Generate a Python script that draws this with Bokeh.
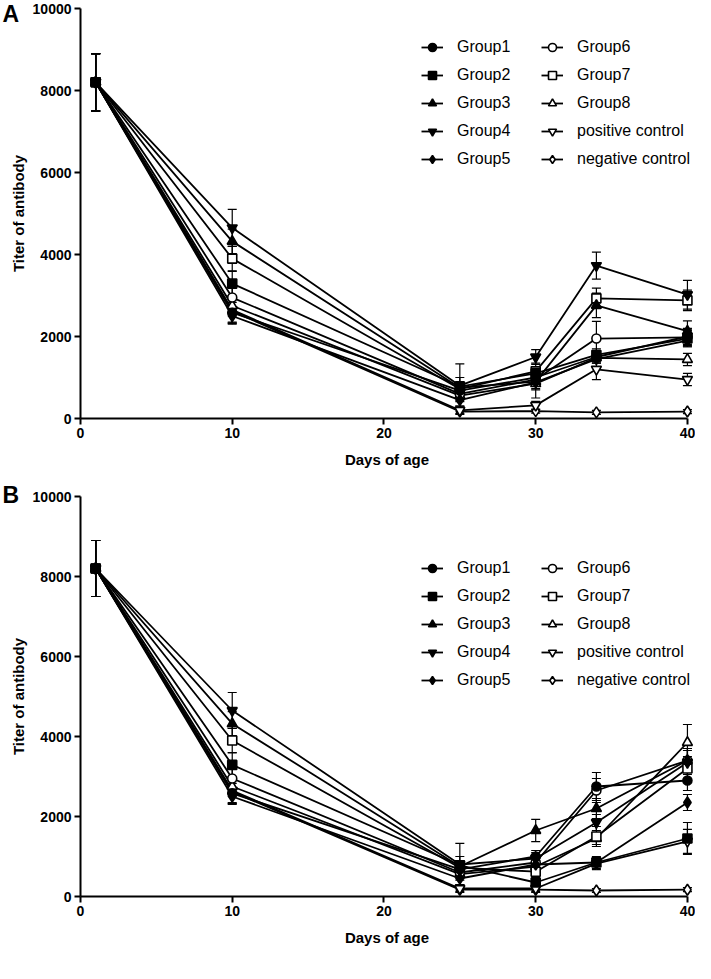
from bokeh.plotting import figure
from bokeh.models import (ColumnDataSource, Whisker, Legend, LegendItem, Title,
                          Range1d, FixedTicker, TeeHead, NumeralTickFormatter)
from bokeh.layouts import column
from bokeh.embed import file_html
from bokeh.resources import INLINE

days = [1, 10, 25, 30, 34, 40]
names = ["Group1", "Group2", "Group3", "Group4", "Group5",
         "Group6", "Group7", "Group8", "positive control", "negative control"]
x_ticks = [0, 10, 20, 30, 40]
y_ticks = [0, 2000, 4000, 6000, 8000, 10000]

# Panel A values (titer of antibody)
a_group1 = [8200, 2580, 680, 1000, 1500, 2000]
a_group2 = [8200, 3290, 780, 1100, 1550, 1950]
a_group3 = [8200, 4320, 750, 900, 2760, 2130]
a_group4 = [8200, 4650, 800, 1500, 3730, 3020]
a_group5 = [8200, 2500, 450, 880, 1450, 1900]
a_group6 = [8200, 2950, 600, 950, 1950, 1980]
a_group7 = [8200, 3900, 720, 1150, 2930, 2880]
a_group8 = [8200, 2750, 560, 850, 1480, 1440]
a_pos = [8200, 2650, 200, 320, 1200, 950]
a_neg = [8200, 2620, 170, 180, 150, 170]

# Panel A errors (SD)
a_err_group1 = [700, 250, 150, 150, 150, 200]
a_err_group2 = [700, 300, 550, 150, 150, 200]
a_err_group3 = [700, 300, 150, 200, 300, 250]
a_err_group4 = [700, 450, 200, 180, 330, 350]
a_err_group5 = [700, 200, 150, 150, 100, 150]
a_err_group6 = [700, 250, 150, 150, 420, 200]
a_err_group7 = [700, 300, 150, 200, 250, 250]
a_err_group8 = [700, 250, 150, 350, 100, 150]
a_err_pos = [700, 300, 100, 100, 250, 150]
a_err_neg = [700, 300, 50, 50, 50, 50]

# Panel B values
b_group1 = [8200, 2580, 680, 1000, 2750, 2900]
b_group2 = [8200, 3290, 780, 350, 850, 1450]
b_group3 = [8200, 4320, 750, 1650, 2200, 3400]
b_group4 = [8200, 4650, 800, 950, 1850, 3350]
b_group5 = [8200, 2500, 450, 800, 850, 2350]
b_group6 = [8200, 2950, 600, 850, 2650, 3400]
b_group7 = [8200, 3900, 720, 620, 1500, 3200]
b_group8 = [8200, 2750, 560, 750, 1450, 3850]
b_pos = [8200, 2650, 200, 200, 820, 1380]
b_neg = [8200, 2620, 170, 170, 150, 170]

# Panel B errors
b_err_group1 = [700, 250, 150, 150, 350, 250]
b_err_group2 = [700, 300, 550, 150, 150, 400]
b_err_group3 = [700, 300, 150, 280, 250, 300]
b_err_group4 = [700, 450, 200, 150, 200, 300]
b_err_group5 = [700, 200, 150, 150, 100, 200]
b_err_group6 = [700, 250, 150, 150, 300, 300]
b_err_group7 = [700, 300, 150, 150, 250, 300]
b_err_group8 = [700, 250, 150, 150, 150, 450]
b_err_pos = [700, 300, 100, 100, 150, 300]
b_err_neg = [700, 300, 50, 50, 50, 50]

a_values = [a_group1, a_group2, a_group3, a_group4, a_group5,
            a_group6, a_group7, a_group8, a_pos, a_neg]
a_errors = [a_err_group1, a_err_group2, a_err_group3, a_err_group4, a_err_group5,
            a_err_group6, a_err_group7, a_err_group8, a_err_pos, a_err_neg]
b_values = [b_group1, b_group2, b_group3, b_group4, b_group5,
            b_group6, b_group7, b_group8, b_pos, b_neg]
b_errors = [b_err_group1, b_err_group2, b_err_group3, b_err_group4, b_err_group5,
            b_err_group6, b_err_group7, b_err_group8, b_err_pos, b_err_neg]

markers = ["circle", "square", "triangle", "inverted_triangle", "diamond"] * 2
fills = ["black"] * 5 + ["white"] * 5
sizes = [9, 9, 10, 10, 11, 9, 9, 10, 10, 11]

FONT = "Liberation Sans"


def make_panel(letter, values, errors, top, frame_h, bottom, legend_top,
               letter_align, letter_standoff):
    p = figure(width=695, height=top + frame_h + bottom,
               x_range=Range1d(0, 40.4), y_range=Range1d(0, 10000),
               output_backend="svg", toolbar_location=None,
               min_border_left=80, min_border_right=2,
               min_border_top=top, min_border_bottom=bottom)
    p.outline_line_color = None
    p.grid.visible = False
    p.background_fill_color = "white"

    # panel letter as a title drawn over the top-left corner
    p.title = Title(text=letter, align="left", offset=-78,
                    standoff=letter_standoff, vertical_align=letter_align,
                    text_font=FONT, text_font_style="bold",
                    text_font_size="23px", text_color="black")

    p.xaxis.ticker = FixedTicker(ticks=x_ticks)
    p.yaxis.ticker = FixedTicker(ticks=y_ticks)
    p.yaxis.formatter = NumeralTickFormatter(format="0")
    p.xaxis.bounds = (0, 40)
    p.xaxis.axis_label = "Days of age"
    p.yaxis.axis_label = "Titer of antibody"
    for ax in (p.xaxis, p.yaxis):
        ax.axis_line_width = 2
        ax.axis_line_color = "black"
        ax.major_tick_line_width = 2
        ax.major_tick_line_color = "black"
        ax.major_tick_out = 6
        ax.major_tick_in = 0
        ax.minor_tick_out = 0
        ax.minor_tick_in = 0
        ax.major_label_text_font = FONT
        ax.major_label_text_font_style = "bold"
        ax.major_label_text_font_size = "14px"
        ax.major_label_text_color = "black"
        ax.major_label_standoff = 3
        ax.axis_label_text_font = FONT
        ax.axis_label_text_font_style = "bold"
        ax.axis_label_text_font_size = "15px"
        ax.axis_label_text_color = "black"
    p.xaxis.axis_label_standoff = 10
    p.yaxis.axis_label_standoff = 3

    line_rs = []
    for vals in values:
        line_rs.append(p.line(days, vals, line_color="black", line_width=1.8))

    for vals, errs in zip(values, errors):
        src = ColumnDataSource(dict(
            x=days,
            upper=[v + e for v, e in zip(vals, errs)],
            lower=[v - e for v, e in zip(vals, errs)]))
        w = Whisker(source=src, base="x", upper="upper", lower="lower",
                    line_color="black", line_width=1.2,
                    upper_head=TeeHead(size=9, line_width=1.2, line_color="black"),
                    lower_head=TeeHead(size=9, line_width=1.2, line_color="black"))
        p.add_layout(w)

    # markers drawn last series first so filled ones sit on top
    scat_rs = [None] * len(values)
    for i in reversed(range(len(values))):
        scat_rs[i] = p.scatter(days, values[i], marker=markers[i], size=sizes[i],
                               fill_color=fills[i], line_color="black",
                               line_width=1.6)

    items = [LegendItem(label=n, renderers=[lr, sr])
             for n, lr, sr in zip(names, line_rs, scat_rs)]
    leg_h = 5 * 20 + 4 * 8
    for col, xoff in ((0, 341), (1, 461)):
        leg = Legend(items=items[col * 5:(col + 1) * 5],
                     location=(xoff, frame_h - legend_top - leg_h),
                     glyph_width=22, glyph_height=20, label_height=20,
                     label_standoff=14, spacing=8, padding=0, margin=0,
                     border_line_color=None, background_fill_alpha=0,
                     label_text_font=FONT, label_text_font_size="16px",
                     label_text_color="black")
        p.add_layout(leg)
    return p


pa = make_panel("A", a_values, a_errors, 8, 410, 58, 29, "bottom", -37)
pb = make_panel("B", b_values, b_errors, 20, 400, 58, 62, "top", -26)

layout = column(pa, pb, spacing=0)
open("out.html", "w").write(file_html(layout, INLINE))
